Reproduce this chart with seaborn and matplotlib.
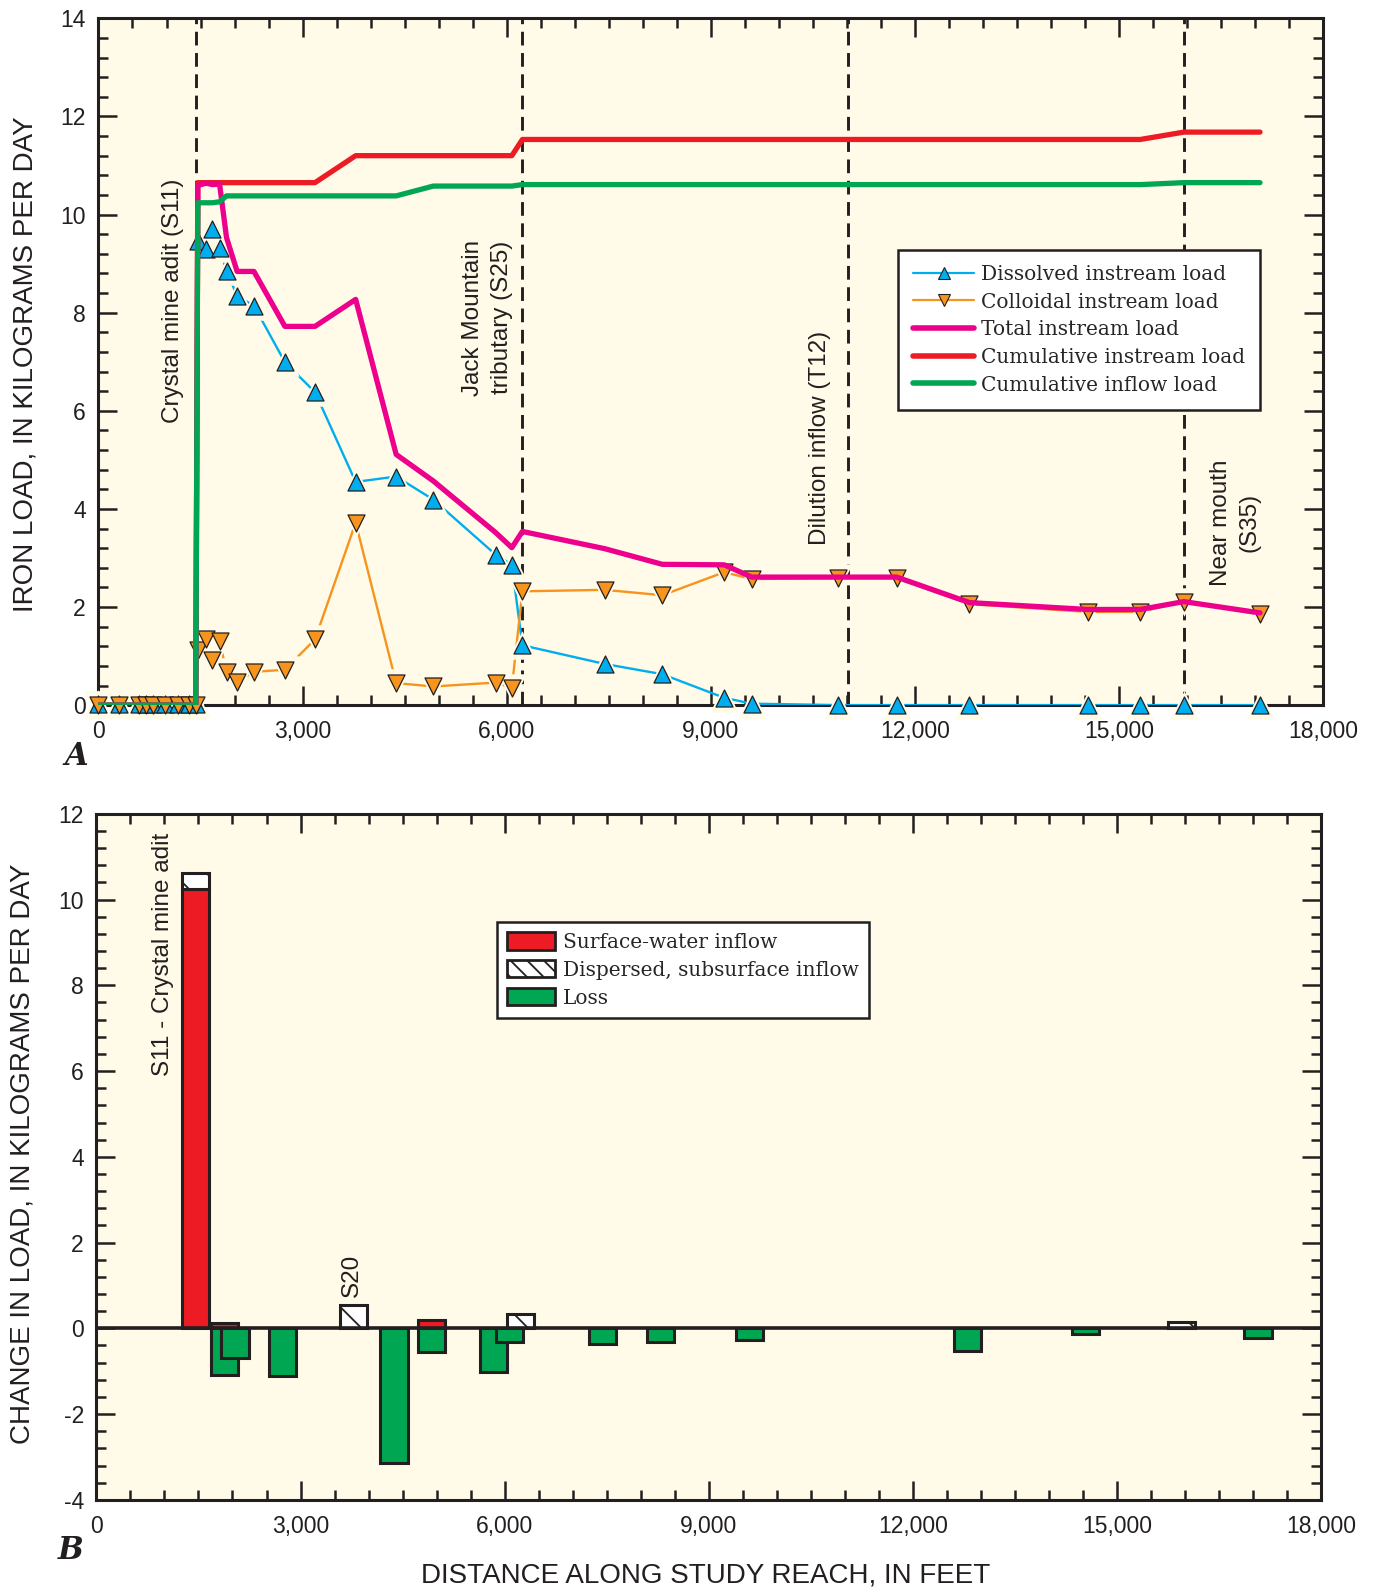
import matplotlib
matplotlib.use("Agg")
import matplotlib.pyplot as plt
from matplotlib.lines import Line2D
from matplotlib.patches import Patch
from matplotlib.ticker import MultipleLocator, FuncFormatter
import pandas as pd
import seaborn as sns

# ---------------------------------------------------------------- data
# Sampling sites along the study reach (feet)
site_ft = [0, 300, 590, 705, 800, 975, 1170, 1330, 1430,
           1460, 1580, 1675, 1780, 1882, 2038, 2285, 2740, 3182, 3780,
           4375, 4920, 5835, 6075, 6230, 7437, 8287, 9195, 9600, 10868,
           11730, 12800, 14535, 15310, 15950, 17070]

dissolved_kg = [0.02, 0.02, 0.02, 0.02, 0.02, 0.02, 0.02, 0.02, 0.02,
                9.46, 9.30, 9.70, 9.32, 8.85, 8.34, 8.14, 6.99, 6.38, 4.55,
                4.66, 4.19, 3.07, 2.86, 1.22, 0.84, 0.63, 0.15, 0.03, 0.0,
                0.0, 0.0, 0.0, 0.0, 0.0, 0.0]

colloidal_kg = [0.0, 0.0, 0.0, 0.0, 0.0, 0.0, 0.0, 0.0, 0.0,
                1.13, 1.34, 0.91, 1.30, 0.68, 0.48, 0.68, 0.72, 1.34, 3.72,
                0.45, 0.38, 0.46, 0.35, 2.32, 2.35, 2.24, 2.71, 2.57, 2.59,
                2.59, 2.06, 1.90, 1.90, 2.11, 1.85]

total_kg = [0.0, 0.0, 0.0, 0.0, 0.0, 0.0, 0.0, 0.0, 0.0,
            10.59, 10.64, 10.61, 10.62, 9.53, 8.84, 8.84, 7.72, 7.72, 8.27,
            5.11, 4.57, 3.52, 3.21, 3.54, 3.19, 2.87, 2.86, 2.61, 2.61,
            2.61, 2.09, 1.95, 1.95, 2.11, 1.88]

cum_instream_kg = [0.0, 0.0, 0.0, 0.0, 0.0, 0.0, 0.0, 0.0, 0.0,
                   10.65, 10.65, 10.65, 10.65, 10.65, 10.65, 10.65, 10.65, 10.65, 11.20,
                   11.20, 11.20, 11.20, 11.20, 11.53, 11.53, 11.53, 11.53, 11.53, 11.53,
                   11.53, 11.53, 11.53, 11.53, 11.68, 11.68]

cum_inflow_kg = [0.0, 0.0, 0.0, 0.0, 0.0, 0.0, 0.0, 0.0, 0.0,
                 10.24, 10.24, 10.24, 10.26, 10.38, 10.38, 10.38, 10.38, 10.38, 10.38,
                 10.38, 10.58, 10.58, 10.58, 10.61, 10.61, 10.61, 10.61, 10.61, 10.61,
                 10.61, 10.61, 10.61, 10.61, 10.65, 10.65]

# Reference locations marked on the profile
mark_ft = [1440, 6230, 11020, 15950]

# Change in load between sites (panel B)
surface_ft = [1460, 1882, 4920]
surface_kg = [10.24, 0.12, 0.20]

dispersed_ft = [1460, 3780, 6230, 15950]
dispersed_kg = [0.38, 0.55, 0.34, 0.15]

loss_ft = [1882, 2038, 2740, 4375, 4920, 5835, 6075, 7437, 8287, 9600,
           12800, 14535, 17070]
loss_kg = [-1.08, -0.70, -1.12, -3.15, -0.56, -1.03, -0.32, -0.37, -0.32,
           -0.27, -0.53, -0.14, -0.22]

profile = pd.DataFrame({
    "ft": site_ft,
    "dissolved": dissolved_kg,
    "colloidal": colloidal_kg,
    "total": total_kg,
    "cum_instream": cum_instream_kg,
    "cum_inflow": cum_inflow_kg,
})

# ---------------------------------------------------------------- style
sns.set_theme(style="ticks")
plt.rcParams["font.family"] = ["Liberation Sans", "DejaVu Sans"]
plt.rcParams["axes.unicode_minus"] = False
plt.rcParams["hatch.linewidth"] = 1.3

INK = "#231f20"
BG = "#fffbe8"
BLUE = "#00aeef"
ORANGE = "#f7941d"
MAGENTA = "#ec008c"
RED = "#ed1c24"
GREEN = "#00a651"
SERIF = ["DejaVu Serif"]

fig = plt.figure(figsize=(13.79, 15.91), dpi=100)
axA = fig.add_axes([0.0714, 0.5568, 0.8882, 0.4317])
axB = fig.add_axes([0.0699, 0.0573, 0.8882, 0.4312])


def style_axis(ax, ymin, ymax):
    ax.set_facecolor(BG)
    ax.set_xlim(0, 18000)
    ax.set_ylim(ymin, ymax)
    ax.xaxis.set_major_locator(MultipleLocator(3000))
    ax.xaxis.set_minor_locator(MultipleLocator(500))
    ax.yaxis.set_major_locator(MultipleLocator(2))
    ax.yaxis.set_minor_locator(MultipleLocator(0.4))
    ax.xaxis.set_major_formatter(FuncFormatter(lambda v, p: f"{int(round(v)):,}"))
    ax.yaxis.set_major_formatter(FuncFormatter(lambda v, p: f"{int(round(v))}"))
    ax.tick_params(which="both", direction="in", top=True, right=True,
                   color=INK, width=1.8, labelcolor=INK)
    ax.tick_params(which="major", length=14, labelsize=16.5)
    ax.tick_params(which="minor", length=7)
    ax.tick_params(axis="x", pad=11)
    ax.tick_params(axis="y", pad=9)
    for s in ax.spines.values():
        s.set_linewidth(2.2)
        s.set_color(INK)
    ax.set_xlabel("")
    ax.set_ylabel("")


# ---------------------------------------------------------------- panel A
for x in mark_ft:
    axA.axvline(x, color=INK, lw=2.1, ls=(0, (4.7, 2.6)), zorder=2)

sns.lineplot(data=profile, x="ft", y="dissolved", ax=axA, color=BLUE, lw=1.7,
             sort=False, estimator=None, zorder=3)
sns.lineplot(data=profile, x="ft", y="colloidal", ax=axA, color=ORANGE, lw=1.7,
             sort=False, estimator=None, zorder=3)

# background-coloured halos leave a small gap in the thin lines around each marker
for col, mk in (("dissolved", "^"), ("colloidal", "v")):
    sns.scatterplot(data=profile, x="ft", y=col, ax=axA, marker=mk, s=420,
                    color=BG, linewidth=0, zorder=4, clip_on=False, legend=False)
sns.scatterplot(data=profile, x="ft", y="dissolved", ax=axA, marker="^", s=150,
                color=BLUE, edgecolor=INK, linewidth=0.9, zorder=5, clip_on=False,
                legend=False)
sns.scatterplot(data=profile, x="ft", y="colloidal", ax=axA, marker="v", s=150,
                color=ORANGE, edgecolor=INK, linewidth=0.9, zorder=5, clip_on=False,
                legend=False)

sns.lineplot(data=profile, x="ft", y="cum_instream", ax=axA, color=RED, lw=3.8,
             sort=False, estimator=None, zorder=6)
sns.lineplot(data=profile, x="ft", y="total", ax=axA, color=MAGENTA, lw=3.8,
             sort=False, estimator=None, zorder=7)
sns.lineplot(data=profile, x="ft", y="cum_inflow", ax=axA, color=GREEN, lw=3.8,
             sort=False, estimator=None, zorder=8)

style_axis(axA, 0, 14)

txt = dict(rotation=90, ha="center", va="center", fontsize=17.5, color=INK,
           multialignment="center", linespacing=1.4, zorder=9)
axA.text(1090, 8.25, "Crystal mine adit (S11)", **txt)
axA.text(5720, 7.9, "Jack Mountain\ntributary (S25)", **txt)
axA.text(10600, 5.45, "Dilution inflow (T12)", **txt)
axA.text(16710, 3.72, "Near mouth\n(S35)", **txt)

handlesA = [
    Line2D([0], [0], color=BLUE, lw=1.6, marker="^", ms=9, mfc=BLUE, mec=INK, mew=0.8),
    Line2D([0], [0], color=ORANGE, lw=1.6, marker="v", ms=9, mfc=ORANGE, mec=INK, mew=0.8),
    Line2D([0], [0], color=MAGENTA, lw=4),
    Line2D([0], [0], color=RED, lw=4),
    Line2D([0], [0], color=GREEN, lw=4),
]
labelsA = ["Dissolved instream load", "Colloidal instream load", "Total instream load",
           "Cumulative instream load", "Cumulative inflow load"]
legA = axA.legend(handlesA, labelsA, loc="upper left", bbox_to_anchor=(0.653, 0.663),
                  borderaxespad=0, frameon=True, fancybox=False, framealpha=1,
                  facecolor="white", edgecolor=INK, handlelength=3.0,
                  handletextpad=0.35, labelspacing=0.43, borderpad=0.75,
                  prop={"family": SERIF, "size": 14.5})
legA.get_frame().set_linewidth(1.8)
legA.set_zorder(10)

# ---------------------------------------------------------------- panel B
BAR_W = 400
surface_at = dict(zip(surface_ft, surface_kg))
axB.bar(surface_ft, surface_kg, width=BAR_W, color=RED, edgecolor=INK,
        linewidth=2.2, zorder=2)
axB.bar(dispersed_ft, dispersed_kg, width=BAR_W,
        bottom=[surface_at.get(x, 0.0) for x in dispersed_ft],
        color="white", edgecolor=INK, hatch="\\", linewidth=2.2, zorder=2)
for x, v in zip(loss_ft, loss_kg):
    axB.bar(x, v, width=BAR_W, color=GREEN, edgecolor=INK, linewidth=2.2, zorder=2)
axB.axhline(0, color=INK, lw=2.6, zorder=3)

style_axis(axB, -4, 12)

axB.text(985, 8.73, "S11 - Crystal mine adit", **txt)
axB.text(3757, 1.23, "S20", **txt)

handlesB = [
    Patch(facecolor=RED, edgecolor=INK, linewidth=2),
    Patch(facecolor="white", edgecolor=INK, hatch="\\\\", linewidth=2),
    Patch(facecolor=GREEN, edgecolor=INK, linewidth=2),
]
labelsB = ["Surface-water inflow", "Dispersed, subsurface inflow", "Loss"]
legB = axB.legend(handlesB, labelsB, loc="upper left", bbox_to_anchor=(0.327, 0.842),
                  borderaxespad=0, frameon=True, fancybox=False, framealpha=1,
                  facecolor="white", edgecolor=INK, handlelength=2.4,
                  handleheight=0.95, handletextpad=0.4, labelspacing=0.41,
                  borderpad=0.5, prop={"family": SERIF, "size": 14.5})
legB.get_frame().set_linewidth(1.8)
legB.set_zorder(10)

# ---------------------------------------------------------------- labels
fig.text(0.0184, 0.771, "IRON LOAD, IN KILOGRAMS PER DAY", rotation=90,
         ha="center", va="center", fontsize=20, color=INK)
fig.text(0.0162, 0.2749, "CHANGE IN LOAD, IN KILOGRAMS PER DAY", rotation=90,
         ha="center", va="center", fontsize=20, color=INK)
fig.text(0.5114, 0.0096, "DISTANCE ALONG STUDY REACH, IN FEET",
         ha="center", va="center", fontsize=20, color=INK)
fig.text(0.0552, 0.5248, "A", ha="center", va="center", fontsize=22,
         family=SERIF, weight="bold", style="italic", color=INK)
fig.text(0.0515, 0.0255, "B", ha="center", va="center", fontsize=22,
         family=SERIF, weight="bold", style="italic", color=INK)

fig.savefig("out.png", dpi=100, facecolor="white")
